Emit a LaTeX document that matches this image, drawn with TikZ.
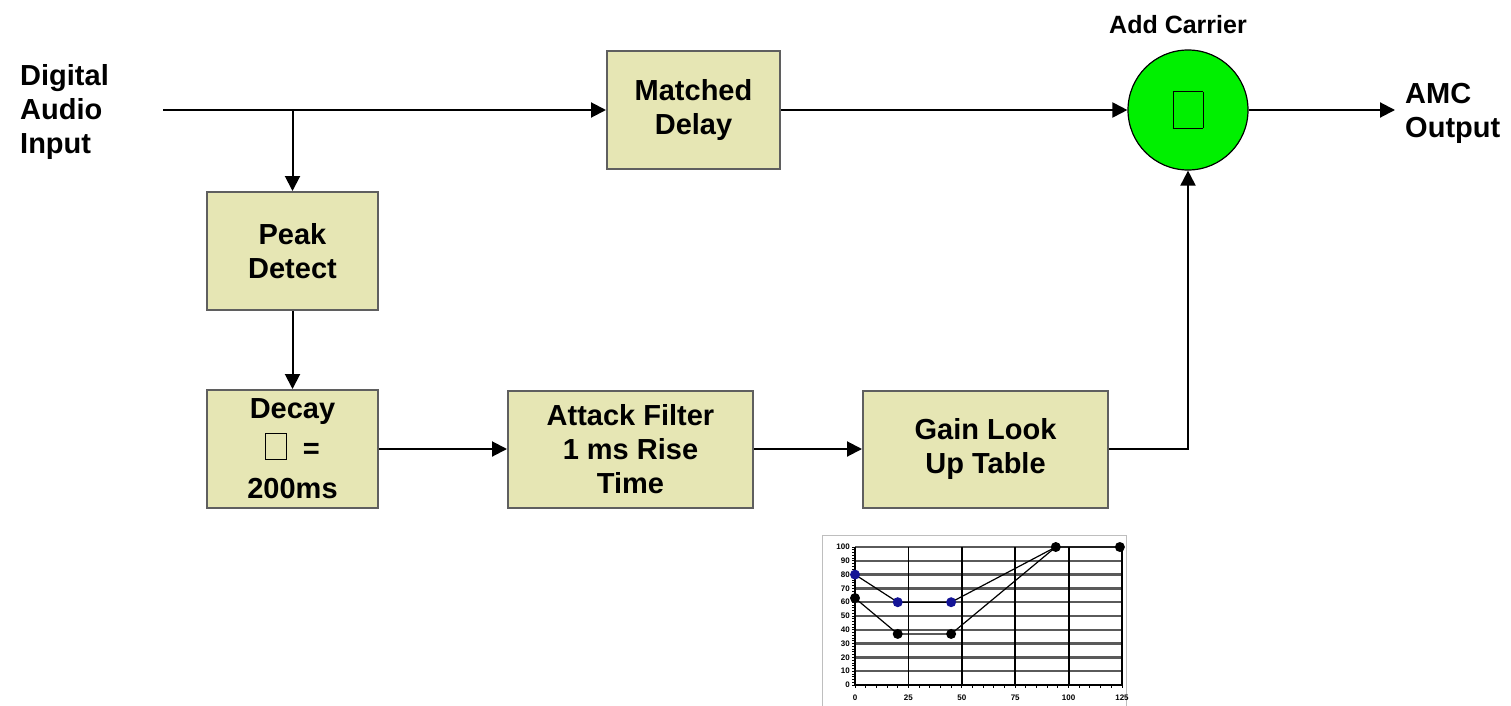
\documentclass[tikz,border=0pt]{standalone}
\usepackage{fontspec}
\setmainfont{Liberation Sans}
\usetikzlibrary{arrows.meta}
\definecolor{boxfill}{RGB}{230,230,180}
\definecolor{boxline}{RGB}{95,95,95}
\definecolor{carrier}{RGB}{0,240,0}
\definecolor{ptblue}{RGB}{20,20,150}
\definecolor{gridgray}{RGB}{90,90,90}
\tikzset{
  blockbox/.style={draw=boxline, line width=2pt, fill=boxfill, align=center,
    font=\fontsize{29}{34}\selectfont\bfseries, inner sep=0pt},
  lbl/.style={align=left, font=\fontsize{29}{34}\selectfont\bfseries, inner sep=0pt},
  wire/.style={line width=2pt, draw=black},
  arr/.style={wire, -{Triangle[length=15pt,width=15pt]}},
  ticklbl/.style={font=\fontsize{8}{9}\selectfont\bfseries, inner sep=0pt},
}
\newcommand{\missing}[2]{{\setlength{\fboxsep}{0pt}\setlength{\fboxrule}{0.8pt}\fbox{\rule{0pt}{#2}\hspace{#1}}}}
\begin{document}
\begin{tikzpicture}[x=1pt,y=-1pt]
\useasboundingbox (0,0) rectangle (1511,706);

% labels
\node[lbl, anchor=west] (dai) at (20,112) {Digital\\Audio\\Input};
\node[lbl, anchor=west] (amc) at (1405,113) {AMC\\Output};
\node[font=\fontsize{25}{30}\selectfont\bfseries, inner sep=0pt] (addlbl) at (1178,25) {Add Carrier};

% blocks
\node[blockbox, minimum width=173pt, minimum height=117pt] (md) at (693.5,110) {Matched\\Delay};
\node[blockbox, minimum width=171pt, minimum height=118pt] (pd) at (292.5,251) {Peak\\Detect};
\node[blockbox, minimum width=171pt, minimum height=118pt] (dc) at (292.5,449) {Decay\\[6pt]\missing{20pt}{25pt}\ \ =\\[6pt]200ms};
\node[blockbox, minimum width=245pt, minimum height=117pt] (af) at (630.5,449) {Attack Filter\\1 ms Rise\\Time};
\node[blockbox, minimum width=245pt, minimum height=117pt] (gl) at (985.5,449) {Gain Look\\Up Table};
\node[circle, draw=black, line width=1.2pt, fill=carrier, minimum size=120pt, inner sep=0pt] (add) at (1188,110) {\missing{29pt}{36pt}};

% connectors
\coordinate (in) at (163,110);
\coordinate (br) at (292.5,110);
\coordinate (out) at (1395,110);
\draw[arr] (in) -- (md.west);
\draw[arr] (br) -- (pd.north);
\draw[arr] (md.east) -- (add.west);
\draw[arr] (add.east) -- (out);
\draw[arr] (pd.south) -- (dc.north);
\draw[arr] (dc.east) -- (af.west);
\draw[arr] (af.east) -- (gl.west);
\draw[arr] (gl.east) -| (add.south);

% gain curve chart
\begin{scope}
\draw[draw={rgb,255:red,190;green,190;blue,190}, line width=1pt] (822,535) rectangle (1126,706);
\foreach \v in {0,10,...,100} {
  \draw[gridgray, line width=2.4pt] (855,{685-1.38*\v}) -- (1122,{685-1.38*\v});
  \node[ticklbl, anchor=east] at (850,{685-1.38*\v}) {\v};
}
\foreach \u in {25,50,75,100,125} {
  \draw[black, line width=1.8pt] ({855+2.136*\u},547) -- ({855+2.136*\u},685);
}
\foreach \u in {0,25,50,75,100,125} {
  \node[ticklbl] at ({855+2.136*\u},698) {\u};
}
\foreach \u in {0,5,...,125} {
  \draw[black, line width=1pt] ({855+2.136*\u},685) -- ({855+2.136*\u},688);
}
\foreach \v in {0,2,...,100} {
  \draw[black, line width=0.8pt] (852,{685-1.38*\v}) -- (855,{685-1.38*\v});
}
\draw[black, line width=2pt] (855,547) -- (855,685) -- (1122,685);
% series
\draw[black, line width=1.2pt] (855,{685-1.38*80}) -- ({855+2.136*20},{685-1.38*60}) -- ({855+2.136*45},{685-1.38*60}) -- ({855+2.136*94},547) -- ({855+2.136*124},547);
\draw[black, line width=1.2pt] (855,{685-1.38*63}) -- ({855+2.136*20},{685-1.38*37}) -- ({855+2.136*45},{685-1.38*37}) -- ({855+2.136*94},547);
\foreach \u/\v in {0/80,20/60,45/60} {
  \fill[ptblue] ({855+2.136*\u},{685-1.38*\v}) circle (5pt);
}
\foreach \u/\v in {0/63,20/37,45/37,94/100,124/100} {
  \fill[black] ({855+2.136*\u},{685-1.38*\v}) circle (5pt);
}
\end{scope}
\end{tikzpicture}
\end{document}
